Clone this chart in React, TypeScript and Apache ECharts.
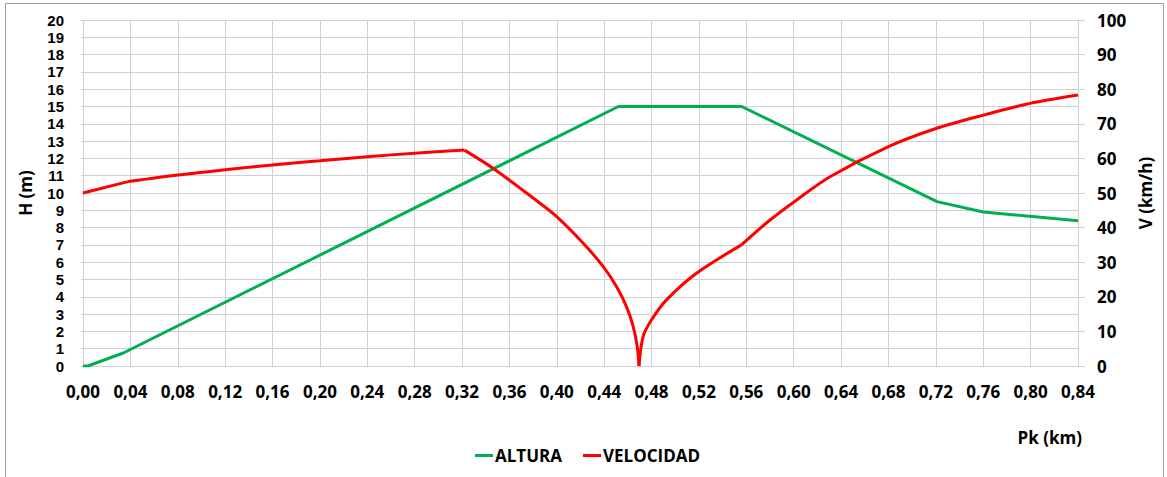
import React, { useEffect, useRef } from "react";
import * as echarts from "echarts";

const alturaPk = [0, 0.004, 0.034, 0.452, 0.556, 0.721, 0.76, 0.84];
const alturaH = [0, 0, 0.75, 15, 15, 9.5, 8.9, 8.4];

const velPk = [
  0, 0.038, 0.08, 0.12, 0.16, 0.2, 0.24, 0.28, 0.322, 0.3464, 0.3802, 0.3999,
  0.4223, 0.4392, 0.4505, 0.4589, 0.4645, 0.4679, 0.4694, 0.4728, 0.4799,
  0.4926, 0.5179, 0.5559, 0.58, 0.6025, 0.6306, 0.68, 0.7207, 0.76, 0.7995,
  0.84,
];
const velV = [
  50, 53.3, 55.2, 56.7, 58.1, 59.3, 60.5, 61.5, 62.4, 57.1, 48.5, 43.2, 35.5,
  28.7, 22.9, 17.1, 11.4, 5.6, 0, 8.5, 13.3, 19.1, 26.8, 35.0, 42.2, 48.0,
  54.7, 63.4, 68.7, 72.5, 75.9, 78.3,
];
// indices where the velocity curve has a corner (start/peak/cusp/kink)
const velCorners = [0, 1, 8, 18, 23, 31];

const seriesNames = ["ALTURA", "VELOCIDAD"];
const xAxisName = "Pk (km)";
const leftAxisName = "H (m)";
const rightAxisName = "V (km/h)";

const FONT = "'Open Sans', 'Liberation Sans', sans-serif";

export default function App() {
  const ref = useRef<HTMLDivElement>(null);
  useEffect(() => {
    if (!ref.current) return;
    const chart = echarts.init(ref.current, null, { renderer: "svg" });
    const labelStyle = {
      fontFamily: FONT,
      fontWeight: "bold" as const,
      fontSize: 17,
      color: "#000",
    };
    const yLabelStyle = {
      ...labelStyle,
      fontFamily: "'Liberation Sans', Arial, sans-serif",
      fontSize: 15,
    };
    const velPoints = velPk.map((x, i) => [x, velV[i]]);
    const velSeries = velCorners.slice(0, -1).map((start, k) => {
      const end = velCorners[k + 1];
      return {
        name: seriesNames[1],
        type: "line",
        yAxisIndex: 1,
        symbol: "none",
        color: "#ff0000",
        smooth: end - start > 1 ? 0.3 : false,
        lineStyle: { width: 3, color: "#ff0000" },
        data: velPoints.slice(start, end + 1),
      };
    });
    chart.setOption({
      animation: false,
      backgroundColor: "#fff",
      grid: { left: 83, right: 89, top: 20, bottom: 111, containLabel: false },
      graphic: [
        {
          type: "rect",
          shape: { x: 5.5, y: 3.5, width: 1158, height: 490 },
          style: { fill: "none", stroke: "#a0a0a0", lineWidth: 1 },
          silent: true,
        },
        {
          type: "text",
          right: 1167 - 1082,
          top: 429,
          style: {
            text: xAxisName,
            fontFamily: FONT,
            fontWeight: "bold",
            fontSize: 17,
            fill: "#000",
          },
        },
      ],
      legend: {
        left: 475,
        top: 447,
        padding: 0,
        icon: "rect",
        itemWidth: 18,
        itemHeight: 3,
        itemGap: 21,
        data: seriesNames,
        textStyle: { ...labelStyle, padding: [0, 0, 0, -3] },
      },
      xAxis: {
        type: "value",
        min: 0,
        max: 0.84,
        interval: 0.04,
        axisLine: { show: true, lineStyle: { color: "#d0d0d0" } },
        axisTick: { show: false },
        axisLabel: {
          ...labelStyle,
          margin: 17,
          formatter: (v: number) => v.toFixed(2).replace(".", ","),
        },
        splitLine: { show: true, lineStyle: { color: "#d0d0d0", width: 1 } },
      },
      yAxis: [
        {
          type: "value",
          min: 0,
          max: 20,
          interval: 1,
          position: "left",
          name: leftAxisName,
          nameLocation: "middle",
          nameRotate: 90,
          nameGap: 49,
          nameTextStyle: { ...labelStyle },
          axisLine: { show: true, lineStyle: { color: "#d0d0d0" } },
          axisTick: { show: true, length: 2, lineStyle: { color: "#d0d0d0" } },
          axisLabel: { ...yLabelStyle, margin: 19 },
          splitLine: { show: true, lineStyle: { color: "#d0d0d0", width: 1 } },
        },
        {
          type: "value",
          min: 0,
          max: 100,
          interval: 10,
          position: "right",
          name: rightAxisName,
          nameLocation: "middle",
          nameRotate: 90,
          nameGap: 57,
          nameTextStyle: { ...labelStyle },
          axisLine: { show: true, lineStyle: { color: "#d0d0d0" } },
          axisTick: { show: true, length: 7, lineStyle: { color: "#d0d0d0" } },
          axisLabel: { ...labelStyle, margin: 19 },
          splitLine: { show: false },
        },
      ],
      series: [
        {
          name: seriesNames[0],
          type: "line",
          yAxisIndex: 0,
          symbol: "none",
          color: "#00b050",
          lineStyle: { width: 3, color: "#00b050" },
          data: alturaPk.map((x, i) => [x, alturaH[i]]),
        },
        ...velSeries,
      ],
    });
    return () => chart.dispose();
  }, []);
  return (
    <div
      ref={ref}
      style={{ position: "fixed", left: 0, top: 0, width: 1167, height: 477 }}
    />
  );
}
